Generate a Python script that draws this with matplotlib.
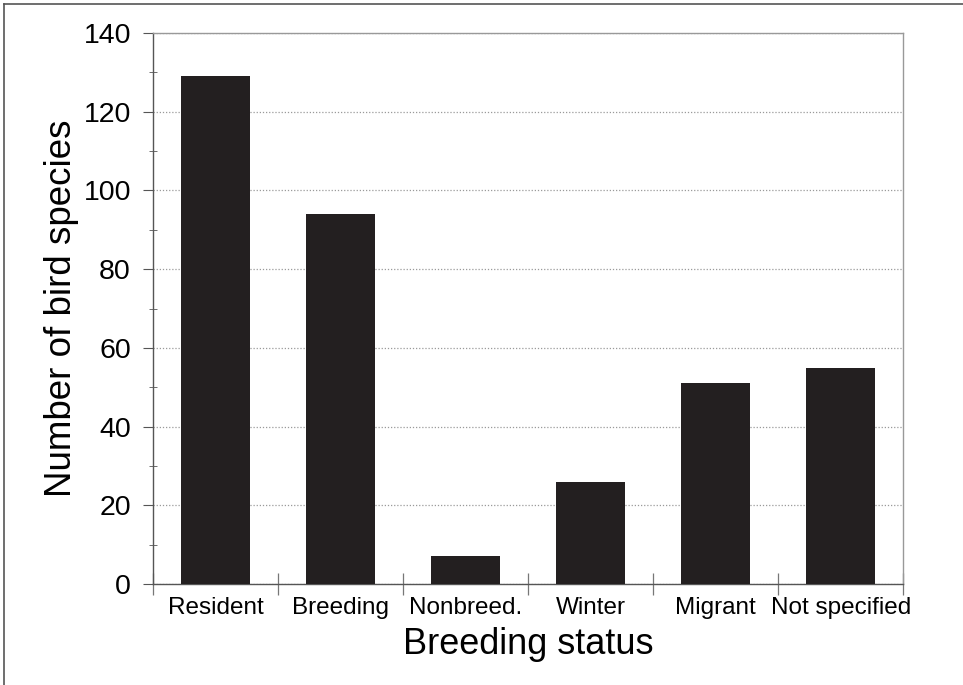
import matplotlib
matplotlib.use('Agg')
import matplotlib.pyplot as plt
from matplotlib.lines import Line2D
from matplotlib.ticker import MultipleLocator, FixedLocator
import numpy as np

plt.rcParams['font.family'] = ['Liberation Sans', 'DejaVu Sans']

# данные
status = ['Resident', 'Breeding', 'Nonbreed.', 'Winter', 'Migrant', 'Not specified']
n_species = [129, 94, 7, 26, 51, 55]

fig = plt.figure(figsize=(9.63, 6.85), dpi=100)
ax = fig.add_axes([0.159, 0.1474, 0.779, 0.8044])

x = np.arange(len(status))
ax.bar(x, n_species, width=0.55, color='#231f20', zorder=3)

ax.set_xlim(-0.5, len(status) - 0.5)
ax.set_ylim(0, 140)

# сетка
ax.yaxis.set_major_locator(MultipleLocator(20))
ax.yaxis.set_minor_locator(MultipleLocator(10))
ax.grid(True, axis='y', which='major', linestyle=(0, (1, 1.5)), color='#9a9a9a', linewidth=0.9, zorder=0)

ax.set_xticks(x)
ax.set_xticklabels(status, fontsize=17.5)
ax.xaxis.set_minor_locator(FixedLocator(np.arange(-0.5, len(status), 1.0)))
ax.tick_params(axis='x', which='major', length=0, pad=9)
ax.tick_params(axis='x', which='minor', direction='inout', length=16, color='#777777', width=0.9)
ax.tick_params(axis='y', which='major', direction='out', length=7, color='#555555', labelsize=20.5, pad=9)
ax.tick_params(axis='y', which='minor', direction='inout', length=6, color='#555555')

for s in ['left', 'bottom']:
    ax.spines[s].set_color('#555555')
    ax.spines[s].set_linewidth(1.0)
for s in ['top', 'right']:
    ax.spines[s].set_color('#999999')
    ax.spines[s].set_linewidth(1.0)

ax.set_xlabel('Breeding status', fontsize=26, labelpad=6)
ax.set_ylabel('Number of bird species', fontsize=26.5, labelpad=3)

# рамка рисунка (верх и лево)
fig.add_artist(Line2D([4 / 963, 1.0], [1 - 4 / 685, 1 - 4 / 685], transform=fig.transFigure, color='#555555', linewidth=1.2))
fig.add_artist(Line2D([4 / 963, 4 / 963], [1 - 4 / 685, 0.0], transform=fig.transFigure, color='#555555', linewidth=1.2))

fig.savefig('out.png', dpi=100)
